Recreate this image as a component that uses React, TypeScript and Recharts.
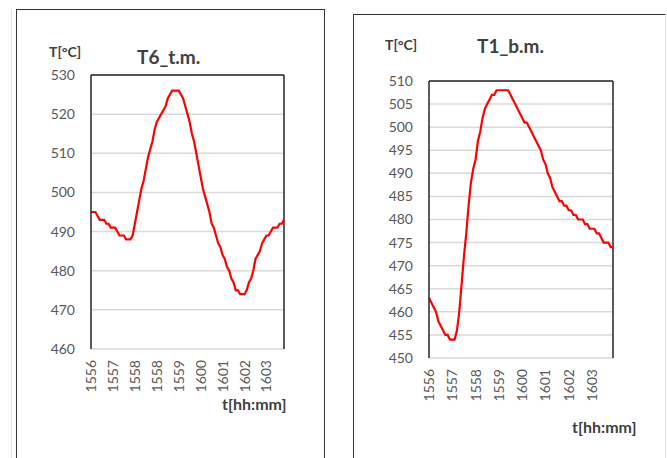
import { LineChart, Line, XAxis, YAxis, CartesianGrid, ReferenceLine } from "recharts";

// T6_t.m. readings, one value per sample (10 samples between time labels)
const T6_TEMPS = [
  495, 495, 495, 494, 493, 493, 493, 492, 492, 491,
  491, 491, 490, 489, 489, 489, 488, 488, 488, 489,
  492, 495, 498, 501, 503, 506, 509, 511, 513, 516,
  518, 519, 520, 521, 522, 524, 525, 526, 526, 526,
  526, 525, 524, 522, 520, 518, 515, 513, 510, 507,
  504, 501, 499, 497, 495, 492, 491, 489, 487, 486,
  484, 483, 481, 480, 478, 477, 475, 475, 474, 474,
  474, 475, 477, 478, 480, 483, 484, 485, 487, 488,
  489, 489, 490, 491, 491, 491, 492, 492, 493,
];

// T1_b.m. readings
const T1_TEMPS = [
  463, 462, 461, 460, 458, 457, 456, 455, 455, 454,
  454, 454, 456, 460, 466, 472, 477, 483, 488, 491,
  493, 497, 499, 502, 504, 505, 506, 507, 507, 508,
  508, 508, 508, 508, 508, 507, 506, 505, 504, 503,
  502, 501, 501, 500, 499, 498, 497, 496, 495, 493,
  492, 490, 489, 487, 486, 485, 484, 484, 483, 483,
  482, 482, 481, 481, 480, 480, 480, 479, 479, 478,
  478, 478, 477, 477, 476, 475, 475, 475, 474, 474,
];

const T6_TIME_LABELS = ["1556", "1557", "1558", "1558", "1559", "1600", "1601", "1602", "1603"];
const T1_TIME_LABELS = ["1556", "1557", "1558", "1559", "1600", "1601", "1602", "1603"];
const LABEL_STEP = 10;

const T6_Y_TICKS = [460, 470, 480, 490, 500, 510, 520, 530];
const T1_Y_TICKS = [450, 455, 460, 465, 470, 475, 480, 485, 490, 495, 500, 505, 510];

const FONT = "Lato, 'Open Sans', sans-serif";
const TICK_COLOR = "#595959";
const LABEL_COLOR = "#404040";

function makeTimeTick(labels: string[]) {
  return (props: any) => {
    const { x, y, payload } = props;
    const label = labels[Math.round(payload.value / LABEL_STEP)];
    return (
      <text
        x={x}
        y={y}
        dy="0.36em"
        textAnchor="end"
        transform={`rotate(-90, ${x}, ${y})`}
        fontSize={14}
        fontFamily={FONT}
        fill={TICK_COLOR}
      >
        {label}
      </text>
    );
  };
}

interface PanelChartProps {
  temps: number[];
  timeLabels: string[];
  yTicks: number[];
  width: number;
  margin: { top: number; right: number; bottom: number; left: number };
}

function PanelChart({ temps, timeLabels, yTicks, width, margin }: PanelChartProps) {
  const data = temps.map((t, i) => ({ i, t }));
  const last = temps.length - 1;
  const yMin = yTicks[0];
  const yMax = yTicks[yTicks.length - 1];
  return (
    <LineChart width={width} height={458} data={data} margin={margin}>
      <CartesianGrid vertical={false} stroke="#d9d9d9" strokeWidth={1.5} />
      <XAxis
        type="number"
        dataKey="i"
        domain={[0, last]}
        ticks={timeLabels.map((_, k) => k * LABEL_STEP)}
        interval={0}
        axisLine={false}
        tickLine={false}
        tickSize={0}
        tickMargin={11}
        height={60}
        tick={makeTimeTick(timeLabels)}
      />
      <YAxis
        domain={[yMin, yMax]}
        ticks={yTicks}
        interval={0}
        width={40}
        axisLine={{ stroke: "#262626", strokeWidth: 1.5 }}
        tickLine={false}
        tickSize={0}
        tickMargin={16}
        tick={{ fontSize: 14, fontFamily: FONT, fill: TICK_COLOR }}
      />
      <ReferenceLine y={yMax} stroke="#262626" strokeWidth={1.5} />
      <ReferenceLine x={last} stroke="#262626" strokeWidth={1.5} />
      <Line
        type="linear"
        dataKey="t"
        stroke="#ff0000"
        strokeWidth={2.2}
        dot={false}
        isAnimationActive={false}
      />
    </LineChart>
  );
}

const textBase = {
  position: "absolute" as const,
  fontFamily: FONT,
  fontWeight: 700,
  color: LABEL_COLOR,
  whiteSpace: "nowrap" as const,
  lineHeight: 1,
};

export default function App() {
  return (
    <div style={{ position: "absolute", left: 0, top: 0, width: 667, height: 458, background: "#fff", overflow: "hidden" }}>
      {/* left panel frame */}
      <div style={{ position: "absolute", left: 11, top: 9, width: 0, height: 460, borderLeft: "1px solid #e3e3e3" }} />
      <div style={{ position: "absolute", left: 16, top: 9, width: 307, height: 460, borderLeft: "1.5px solid #333", borderTop: "1.5px solid #333", borderRight: "1.5px solid #333" }} />
      {/* right panel frame */}
      <div style={{ position: "absolute", left: 353, top: 14, width: 311, height: 460, borderLeft: "1.5px solid #333", borderTop: "1.5px solid #333", borderRight: "1px solid #e3e3e3" }} />

      <div style={{ position: "absolute", left: 0, top: 0 }}>
        <PanelChart
          temps={T6_TEMPS}
          timeLabels={T6_TIME_LABELS}
          yTicks={T6_Y_TICKS}
          width={330}
          margin={{ top: 75, right: 46, bottom: 49, left: 51 }}
        />
      </div>
      <div style={{ position: "absolute", left: 340, top: 0 }}>
        <PanelChart
          temps={T1_TEMPS}
          timeLabels={T1_TIME_LABELS}
          yTicks={T1_Y_TICKS}
          width={327}
          margin={{ top: 81, right: 54, bottom: 40, left: 49 }}
        />
      </div>

      <div style={{ ...textBase, left: 49, top: 45, fontSize: 14 }}>T[°C]</div>
      <div style={{ ...textBase, left: 137, top: 47, fontSize: 19 }}>T6_t.m.</div>
      <div style={{ ...textBase, left: 222, top: 396, fontSize: 16 }}>t[hh:mm]</div>

      <div style={{ ...textBase, left: 385, top: 38, fontSize: 14 }}>T[°C]</div>
      <div style={{ ...textBase, left: 477, top: 36, fontSize: 19 }}>T1_b.m.</div>
      <div style={{ ...textBase, left: 572, top: 419, fontSize: 16 }}>t[hh:mm]</div>
    </div>
  );
}
